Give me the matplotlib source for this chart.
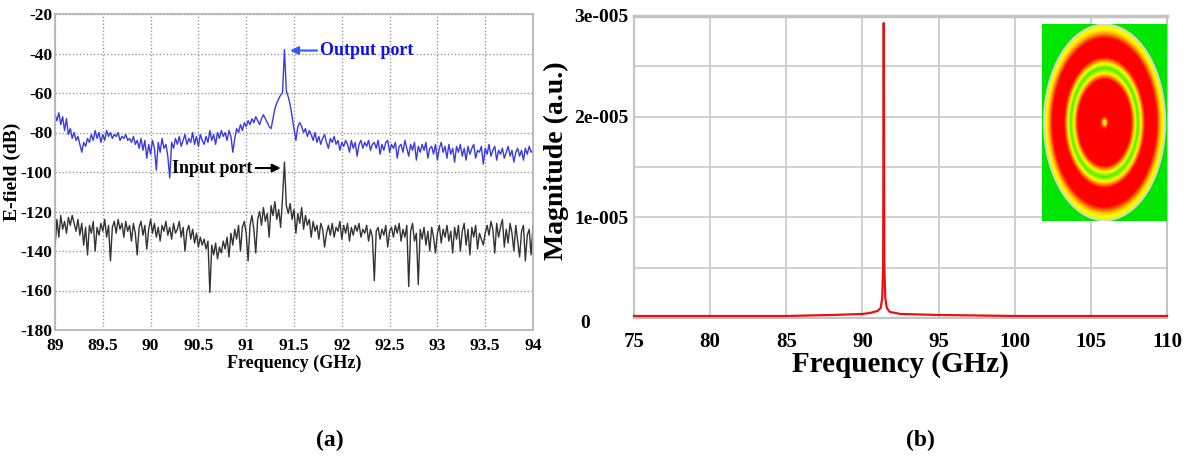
import numpy as np
import matplotlib
matplotlib.use("Agg")
import matplotlib.pyplot as plt
from matplotlib.colors import LinearSegmentedColormap
from matplotlib.patches import Ellipse
from matplotlib.transforms import ScaledTranslation

plt.rcParams['font.family'] = ['Liberation Serif', 'DejaVu Serif']
plt.rcParams['font.weight'] = 'bold'
plt.rcParams['axes.unicode_minus'] = False

# ---------------- Panel (a) data: E-field (dB), 89-94 GHz, step 0.02 GHz ----------------
output_port_db = [
    -71, -74, -70, -76, -72, -79, -73, -81, -78, -83, -80, -84, -82, -86, -90, -85, -87, -83, -85, -81,
    -84, -79, -83, -80, -85, -81, -84, -79, -82, -80, -83, -81, -82, -80, -84, -82, -83, -81, -84, -83,
    -85, -82, -86, -84, -88, -83, -89, -84, -93, -86, -91, -84, -88, -99, -85, -90, -83, -88, -86, -92,
    -103, -85, -88, -83, -86, -82, -87, -84, -81, -86, -83, -85, -80, -86, -82, -87, -81, -84, -86, -82,
    -85, -79, -84, -81, -86, -80, -83, -79, -82, -80, -84, -79, -82, -90, -83, -78, -80, -76, -79, -75,
    -77, -74, -76, -73, -75, -72, -74, -76, -73, -71, -73, -75, -77, -78, -73, -68, -65, -63, -61, -60,
    -38, -59, -62, -66, -72, -78, -84, -77, -75, -77, -80, -78, -82, -79, -81, -84, -80, -85, -82, -86,
    -83, -81, -85, -88, -83, -85, -82, -86, -84, -89, -85, -87, -84, -86, -90, -84, -88, -85, -92, -86,
    -84, -88, -85, -87, -84, -89, -86, -85, -88, -84, -91, -86, -89, -85, -84, -90, -86, -88, -85, -93,
    -87, -86, -90, -84, -88, -92, -86, -89, -85, -94, -87, -90, -86, -89, -85, -93, -88, -87, -91, -86,
    -94, -88, -85, -90, -87, -93, -86, -91, -88, -95, -87, -90, -86, -92, -88, -94, -87, -91, -88, -86,
    -93, -89, -90, -87, -96, -88, -91, -86, -92, -89, -87, -94, -89, -91, -88, -93, -90, -87, -92, -89,
    -95, -90, -88, -92, -89, -94, -88, -91, -87, -90, -89,
]
input_port_db = [
    -138, -124, -133, -122, -129, -125, -131, -123, -127, -122, -126, -130, -124, -132, -126, -137, -128, -142, -127, -131,
    -125, -140, -128, -132, -126, -130, -124, -133, -127, -145, -128, -125, -131, -124, -129, -126, -133, -125, -130, -127,
    -135, -126, -131, -142, -128, -125, -132, -127, -139, -129, -124, -131, -126, -133, -128, -135, -127, -130, -125, -132,
    -128, -134, -126, -131, -129, -125, -133, -128, -140, -130, -127, -134, -129, -136, -131, -138, -133, -137, -134, -139,
    -135, -161, -137, -142, -136, -144, -138, -141, -135, -139, -133, -143, -131, -137, -129, -134, -127, -140, -128, -125,
    -131, -145, -127, -122, -129, -141, -124, -120, -127, -118, -125, -121, -133, -117, -122, -115, -124, -119, -128, -113,
    -95, -117, -121, -116, -124, -119, -131, -121, -126, -118, -129, -122, -127, -124, -133, -125, -130, -127, -134, -126,
    -129, -138, -131, -127, -132, -126, -133, -128, -130, -125, -134, -127, -131, -126, -135, -128, -132, -127, -130, -126,
    -133, -129, -131, -127, -135, -129, -133, -155, -130, -128, -134, -129, -132, -127, -138, -130, -128, -133, -127, -131,
    -126, -135, -129, -133, -127, -158, -130, -126, -135, -131, -157, -129, -134, -128, -137, -130, -140, -128, -133, -141,
    -131, -127, -136, -129, -133, -127, -135, -130, -141, -128, -134, -127, -140, -130, -126, -137, -129, -142, -128, -133,
    -127, -139, -131, -134, -137, -131, -127, -132, -125, -129, -141, -126, -133, -128, -124, -138, -129, -136, -126, -131,
    -140, -127, -135, -143, -130, -127, -145, -132, -129, -142, -127,
]
freq_a = np.linspace(89.0, 94.0, len(output_port_db))
freq_a_in = np.linspace(89.0, 94.0, len(input_port_db))
xticks_a = [89, 89.5, 90, 90.5, 91, 91.5, 92, 92.5, 93, 93.5, 94]
xticklabels_a = ['89', '89.5', '90', '90.5', '91', '91.5', '92', '92.5', '93', '93.5', '94']
yticks_a = [-180, -160, -140, -120, -100, -80, -60, -40, -20]
yticklabels_a = ['-180', '-160', '-140', '-120', '-100', '-80', '-60', '-40', '-20']

# ---------------- Panel (b) data: magnitude (a.u.) ----------------
freq_b = [75, 80, 85, 88, 90, 90.5, 91.0, 91.2, 91.3, 91.36, 91.4, 91.44, 91.5, 91.6, 91.8, 92.5, 95.0, 100, 105, 110]
mag_b = [0.02e-5, 0.02e-5, 0.02e-5, 0.03e-5, 0.04e-5, 0.05e-5, 0.07e-5, 0.1e-5, 0.2e-5, 0.5e-5,
         2.93e-5, 0.5e-5, 0.2e-5, 0.1e-5, 0.06e-5, 0.04e-5, 0.03e-5, 0.02e-5, 0.02e-5, 0.02e-5]
xticks_b = [75, 80, 85, 90, 95, 100, 105, 110]
yticks_b = [0, 1e-5, 2e-5, 3e-5]
yticklabels_b = ['0', '1e-005', '2e-005', '3e-005']

W, H = 1187, 457
fig = plt.figure(figsize=(W / 100, H / 100), dpi=100)

# ================= Panel (a) =================
axa = fig.add_axes([55 / W, 1 - 330 / H, (533 - 55) / W, (330 - 14) / H])
axa.plot(freq_a, output_port_db, color='#3a3ae0', lw=1.0)
axa.plot(freq_a_in, input_port_db, color='#333333', lw=1.0)
axa.set_xlim(89, 94)
axa.set_ylim(-180, -20)
axa.set_xticks(xticks_a)
axa.set_xticklabels(xticklabels_a)
axa.set_yticks(yticks_a)
axa.set_yticklabels(yticklabels_a)
axa.grid(True, color='#999999', linestyle=(0, (1, 1.5)), lw=1.0)
axa.tick_params(axis='y', length=0, labelsize=12.5, pad=2)
axa.tick_params(axis='x', length=0, labelsize=12.5, pad=6)
for s in axa.spines.values():
    s.set_color('#b0b0b0')
    s.set_linewidth(1.2)
axa.set_xlabel('Frequency (GHz)', fontsize=13, fontweight='bold', labelpad=0)
axa.set_ylabel('E-field (dB)', fontsize=14, fontweight='bold')
axa.yaxis.set_label_coords(-0.072, 0.5)

axa.annotate('', xy=(91.43, -38.5), xytext=(91.77, -38.5),
             arrowprops=dict(arrowstyle='-|>', color='#2a5cff', lw=1.5, mutation_scale=12))
axa.text(91.77, -38.5, 'Output port', color='#1010ee', fontsize=13, fontweight='bold',
         ha='left', va='center')
axa.annotate('', xy=(91.39, -98), xytext=(91.07, -98),
             arrowprops=dict(arrowstyle='-|>', color='black', lw=1.5, mutation_scale=12))
axa.text(91.06, -98, 'Input port', color='black', fontsize=13, fontweight='bold',
         ha='right', va='center')

# ================= Panel (b) =================
axb = fig.add_axes([634 / W, 1 - 318 / H, (1167 - 634) / W, (318 - 16) / H])
axb.plot(freq_b, mag_b, color='#e81010', lw=1.6, clip_on=False, zorder=3)
axb.set_xlim(75, 110)
axb.set_ylim(0, 3e-5)
axb.set_xticks(xticks_b)
axb.set_yticks(yticks_b)
axb.set_yticklabels(yticklabels_b)
axb.set_yticks([0.5e-5, 1.5e-5, 2.5e-5], minor=True)
axb.grid(True, which='both', color='#cfcfcf', lw=1.4)
axb.tick_params(axis='y', which='both', length=0, labelsize=14, pad=4)
axb.tick_params(axis='x', which='both', length=0, labelsize=15, pad=10)
for s in axb.spines.values():
    s.set_color('#c4c4c4')
    s.set_linewidth(1.5)
axb.spines['top'].set_linewidth(2.5)
axb.set_xlabel('Frequency (GHz)', fontsize=21, fontweight='bold', labelpad=-1)
axb.set_ylabel('Magnitude (a.u.)', fontsize=20, fontweight='bold')
axb.yaxis.set_label_coords(-0.122, 0.52)
# the "0" label sits further left in the reference
zero_lbl = axb.get_yticklabels()[0]
zero_lbl.set_transform(zero_lbl.get_transform() + ScaledTranslation(-38 / 100, -4 / 100, fig.dpi_scale_trans))

# inset field pattern
ins = axb.inset_axes([101.8, 0.966e-5, 8.2, 1.954e-5], transform=axb.transData)
n = 300
yy, xx = np.mgrid[-1:1:n * 1j, -1:1:n * 1j]
ax_e, ay_e = 0.97, 0.995
r = np.sqrt((xx / ax_e) ** 2 + (yy / ay_e) ** 2)
rp = [0.0, 0.025, 0.05, 0.08, 0.44, 0.50, 0.555, 0.61, 0.67, 0.86, 0.93, 0.975, 1.0]
vp = [0.25, 0.55, 0.9, 1.0, 1.0, 0.55, 0.15, 0.55, 1.0, 1.0, 0.6, 0.45, 0.5]
v = np.interp(r, rp, vp)
v = np.where(r > 1.0, 0.0, v)
cmap = LinearSegmentedColormap.from_list('field', [(0.0, '#00e600'), (0.5, '#ffff00'), (1.0, '#ff0000')])
ins.imshow(v, cmap=cmap, vmin=0, vmax=1, extent=[-1, 1, -1, 1], aspect='auto', interpolation='bilinear')
ins.add_patch(Ellipse((0, 0), 2 * ax_e, 2 * ay_e, fill=False, ec='#d8d8c0', lw=1.5))
ins.set_xlim(-1, 1)
ins.set_ylim(-1, 1)
ins.set_xticks([])
ins.set_yticks([])
for s in ins.spines.values():
    s.set_visible(False)

fig.text(330 / W, 1 - 440 / H, '(a)', fontsize=17, fontweight='bold', ha='center', va='center')
fig.text(920 / W, 1 - 440 / H, '(b)', fontsize=17, fontweight='bold', ha='center', va='center')

fig.savefig('out.png', dpi=100)
